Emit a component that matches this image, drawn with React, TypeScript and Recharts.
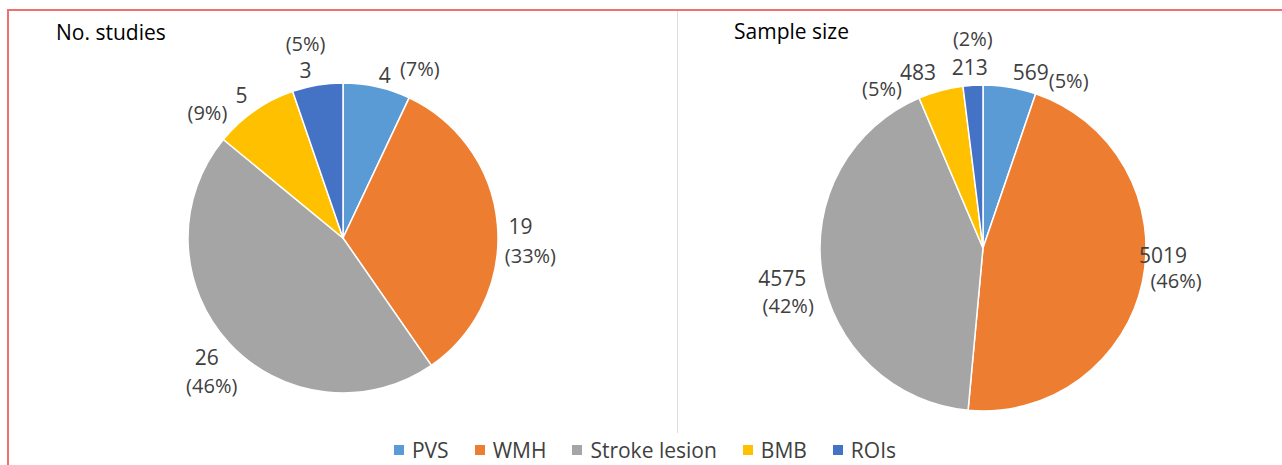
import React from "react";
import { Cell, Legend, Pie, PieChart } from "recharts";

const categories = ["PVS", "WMH", "Stroke lesion", "BMB", "ROIs"];
const colors = ["#5B9BD5", "#ED7D31", "#A5A5A5", "#FFC000", "#4472C4"];

const studyCounts = [4, 19, 26, 5, 3];
const studyPct = ["7%", "33%", "46%", "9%", "5%"];

const sampleSizes = [569, 5019, 4575, 483, 213];
const samplePct = ["5%", "46%", "42%", "5%", "2%"];

// label nudges [valueDx, valueDy, pctDx, pctDy] from a point just outside the slice
const studyLabelPos = [
  [4, 6, 39, -1],
  [5, 2, 15, 32],
  [-9, 2, -4, 30],
  [-3, -1, -37, 17],
  [-9, 3, -9, -24],
];
const sampleLabelPos = [
  [18, 3, 56, 11],
  [3, -31, 16, -5],
  [-22, 2, -16, 29],
  [-18, -1, -54, 15],
  [-2, 0, 1, -29],
];

const FONT = "'Open Sans', sans-serif";
const RAD = Math.PI / 180;

const makeLabel = (pcts: string[], pos: number[][]) => (props: any) => {
  const { cx, cy, midAngle, outerRadius, index, value } = props;
  const r = outerRadius + 18;
  const x = cx + r * Math.cos(-midAngle * RAD);
  const y = cy + r * Math.sin(-midAngle * RAD);
  const [vx, vy, px, py] = pos[index];
  return (
    <g>
      <text
        x={x + vx}
        y={y + vy}
        textAnchor="middle"
        dominantBaseline="central"
        fill="#404040"
        fontSize={21}
        fontFamily={FONT}
      >
        {value}
      </text>
      <text
        x={x + px}
        y={y + py}
        textAnchor="middle"
        dominantBaseline="central"
        fill="#404040"
        fontSize={20}
        fontFamily={FONT}
      >
        ({pcts[index]})
      </text>
    </g>
  );
};

const studyData = categories.map((name, i) => ({ name, value: studyCounts[i] }));
const sampleData = categories.map((name, i) => ({ name, value: sampleSizes[i] }));

const LegendBox = () => (
  <div
    style={{
      display: "flex",
      justifyContent: "center",
      gap: 26,
      fontFamily: FONT,
      fontSize: 21,
      color: "#404040",
      paddingLeft: 8,
    }}
  >
    {categories.map((c, i) => (
      <div key={c} style={{ display: "flex", alignItems: "center" }}>
        <span
          style={{
            width: 10,
            height: 10,
            background: colors[i],
            marginRight: 8,
            display: "inline-block",
          }}
        />
        {c}
      </div>
    ))}
  </div>
);

const titleStyle: React.CSSProperties = {
  position: "absolute",
  fontFamily: FONT,
  fontSize: 21,
  color: "#000",
  lineHeight: "26px",
};

export default function App() {
  return (
    <div
      style={{
        position: "absolute",
        left: 0,
        top: 0,
        width: 1282,
        height: 465,
        background: "#fff",
        overflow: "hidden",
      }}
    >
      <div
        style={{
          position: "absolute",
          left: 7,
          top: 9,
          width: 1300,
          height: 500,
          borderTop: "2px solid #F07070",
          borderLeft: "2px solid #F07070",
        }}
      />
      <div
        style={{
          position: "absolute",
          left: 677,
          top: 11,
          width: 1,
          height: 422,
          background: "#DDDDDD",
        }}
      />
      <div style={{ ...titleStyle, left: 56, top: 19 }}>No. studies</div>
      <div style={{ ...titleStyle, left: 734, top: 18 }}>Sample size</div>
      <div style={{ position: "absolute", left: 0, top: 0 }}>
        <PieChart width={1282} height={465} margin={{ top: 0, right: 0, bottom: 0, left: 0 }}>
          <Pie
            data={studyData}
            dataKey="value"
            nameKey="name"
            cx={343}
            cy={238}
            outerRadius={155}
            startAngle={90}
            endAngle={-270}
            stroke="#fff"
            strokeWidth={1.5}
            labelLine={false}
            label={makeLabel(studyPct, studyLabelPos)}
            isAnimationActive={false}
          >
            {studyData.map((d, i) => (
              <Cell key={d.name} fill={colors[i]} />
            ))}
          </Pie>
          <Pie
            data={sampleData}
            dataKey="value"
            nameKey="name"
            cx={983}
            cy={248}
            outerRadius={163}
            startAngle={90}
            endAngle={-270}
            stroke="#fff"
            strokeWidth={1.5}
            labelLine={false}
            label={makeLabel(samplePct, sampleLabelPos)}
            isAnimationActive={false}
          >
            {sampleData.map((d, i) => (
              <Cell key={d.name} fill={colors[i]} />
            ))}
          </Pie>
          <Legend
            content={<LegendBox />}
            wrapperStyle={{ position: "absolute", left: 0, width: 1282, top: 436 }}
          />
        </PieChart>
      </div>
    </div>
  );
}
